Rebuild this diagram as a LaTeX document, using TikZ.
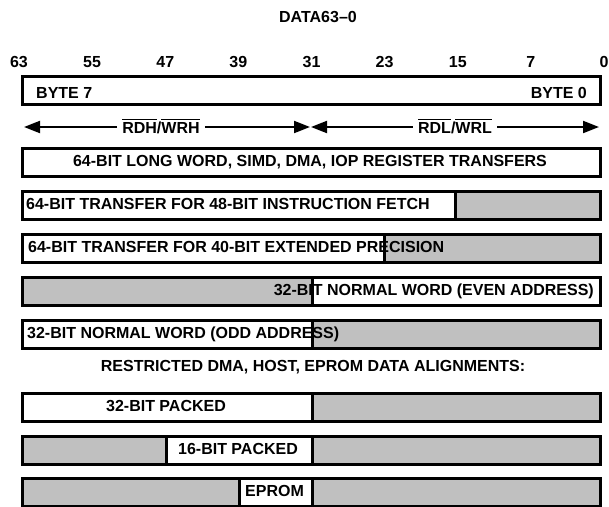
\documentclass[tikz,border=0pt]{standalone}
\usepackage{fontspec}
\setmainfont{Liberation Sans}
\usetikzlibrary{arrows.meta}
\definecolor{shade}{RGB}{192,192,192}
\tikzset{
  txt/.style={font=\bfseries\fontsize{16}{18}\selectfont, inner sep=0pt, text height=11.5pt, text depth=0pt},
  seg/.style={draw, line width=2.5pt, minimum height=28pt, inner sep=0pt, anchor=north west},
  busarrow/.style={line width=2pt, -{Triangle[length=16pt,width=12pt]}},
}
\newcommand\segbox[5]{\node[seg, fill=#5, minimum width={(#3-#2)*1pt}] (#1) at (#2,#4) {};}
\newcommand\barred[1]{\leavevmode\setbox0\hbox{#1}\rlap{\rule[13.3pt]{\wd0}{1.4pt}}\box0}
\begin{document}
\begin{tikzpicture}[x=1pt,y=-1pt]
\useasboundingbox (0,0) rectangle (609,506);
% title and bit numbers
\node[txt] (title) at (318,17) {DATA63–0};
\foreach \b [count=\i from 0] in {63,55,47,39,31,23,15,7,0}
  \node[txt] (bit\b) at ({19+73.125*\i},62) {\b};
% top word box
\segbox{word}{21}{599}{75}{white}
\node[txt, anchor=west] (byte7) at (36,93) {BYTE 7};
\node[txt, anchor=east] (byte0) at (587,93) {BYTE 0};
% arrows
\coordinate (aL) at (24,127);
\coordinate (aM) at (310,127);
\coordinate (aM2) at (311,127);
\coordinate (aR) at (599,127);
\node[txt, inner xsep=5pt] (rdh) at (161,128) {\barred{RDH}/\barred{WRH}};
\node[txt, inner xsep=5pt] (rdl) at (455,128) {\barred{RDL}/\barred{WRL}};
\draw[busarrow] (rdh.west |- aL) -- (aL);
\draw[busarrow] (rdh.east |- aM) -- (aM);
\draw[busarrow] (rdl.west |- aM2) -- (aM2);
\draw[busarrow] (rdl.east |- aR) -- (aR);
% row 1
\segbox{r1}{21}{599}{147}{white}
% row 2
\segbox{r2a}{21}{454}{190}{white}
\segbox{r2b}{454}{599}{190}{shade}
% row 3
\segbox{r3a}{21}{383}{233}{white}
\segbox{r3b}{383}{599}{233}{shade}
% row 4
\segbox{r4a}{21}{311}{276}{shade}
\segbox{r4b}{311}{599}{276}{white}
% row 5
\segbox{r5a}{21}{311}{319}{white}
\segbox{r5b}{311}{599}{319}{shade}
% row 6
\segbox{r6a}{21}{311}{392}{white}
\segbox{r6b}{311}{599}{392}{shade}
% row 7
\segbox{r7a}{21}{165}{435}{shade}
\segbox{r7b}{165}{311}{435}{white}
\segbox{r7c}{311}{599}{435}{shade}
% row 8
\segbox{r8a}{21}{238}{477}{shade}
\segbox{r8b}{238}{311}{477}{white}
\segbox{r8c}{311}{599}{477}{shade}
% texts
\node[txt] (t1) at (310,161) {64-BIT LONG WORD, SIMD, DMA, IOP REGISTER TRANSFERS};
\node[txt, anchor=west] (t2) at (26,204) {64-BIT TRANSFER FOR 48-BIT INSTRUCTION FETCH};
\node[txt, anchor=west] (t3) at (28,247) {64-BIT TRANSFER FOR 40-BIT EXTENDED PRECISION};
\node[txt, anchor=east] (t4) at (594,290) {32-BIT NORMAL WORD (EVEN ADDRESS)};
\node[txt, anchor=west] (t5) at (27,333) {32-BIT NORMAL WORD (ODD ADDRESS)};
\node[txt] (restr) at (313,366) {RESTRICTED DMA, HOST, EPROM DATA ALIGNMENTS:};
\node[txt] (t6) at (166,406) {32-BIT PACKED};
\node[txt] (t7) at (238,449) {16-BIT PACKED};
\node[txt] (t8) at (274.5,491) {EPROM};
\end{tikzpicture}
\end{document}
